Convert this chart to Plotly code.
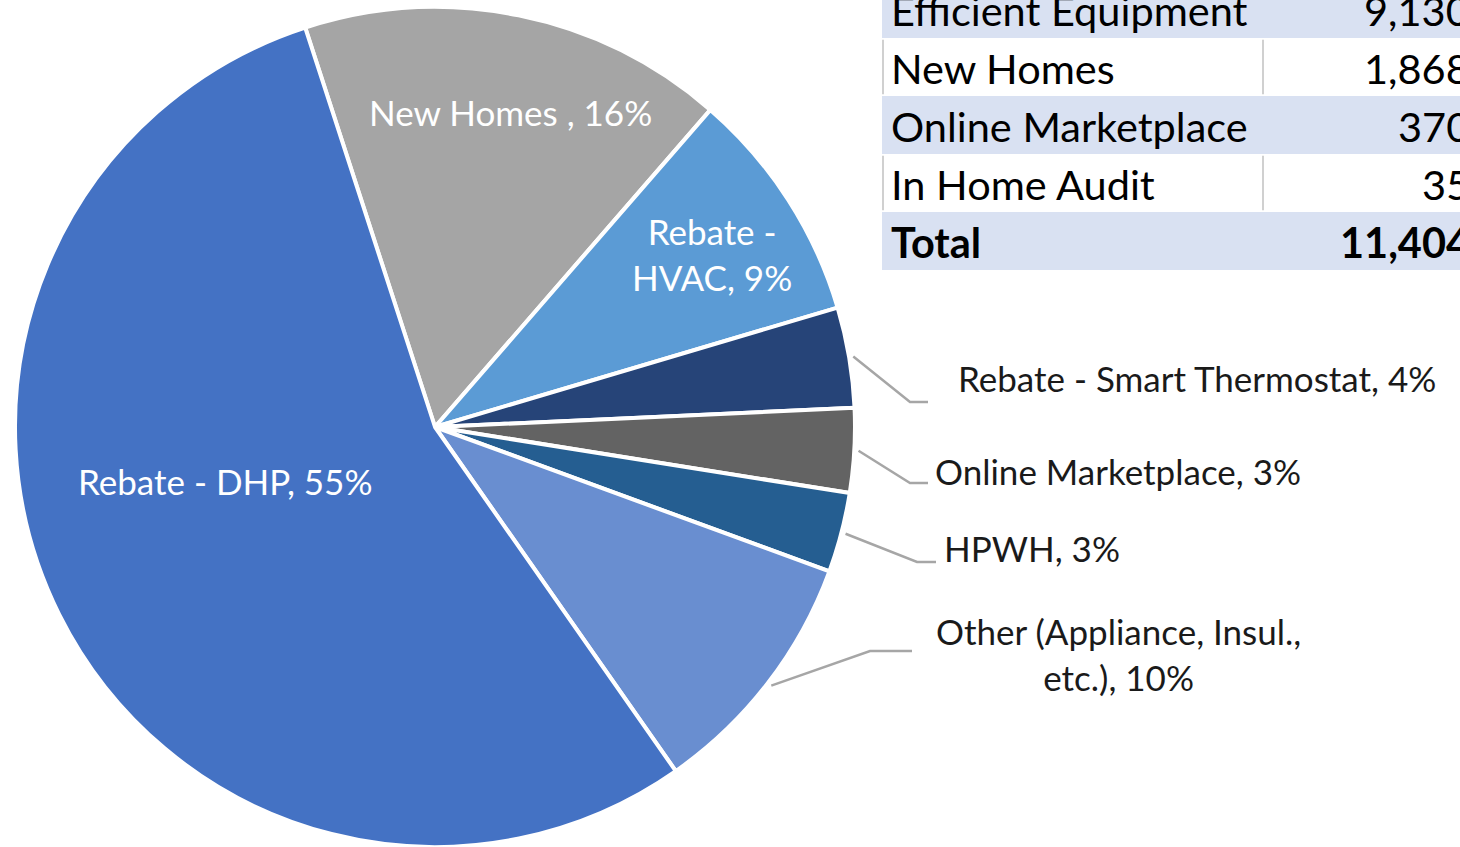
import math
import plotly.graph_objects as go

# ---------------- data ----------------
slice_names = ["New Homes ", "Rebate - HVAC", "Rebate - Smart Thermostat",
               "Online Marketplace", "HPWH", "Other (Appliance, Insul., etc.)",
               "Rebate - DHP"]
slice_label_lines = ["New Homes ", "Rebate -<br>HVAC", "Rebate - Smart Thermostat",
                     "Online Marketplace", "HPWH", "Other (Appliance, Insul.,<br>etc.)",
                     "Rebate - DHP"]
slice_values = [1868, 1030, 440, 370, 350, 1106, 6240]
slice_colors = ["#A5A5A5", "#5B9BD5", "#264478", "#636363", "#255E91",
                "#698ED0", "#4472C4"]

table_rows = ["Efficient Equipment", "New Homes", "Online Marketplace",
              "In Home Audit", "Total"]
table_values = [9130, 1868, 370, 35, 11404]

# ---------------- layout constants ----------------
W, H = 1460, 847
FONT = "Lato"
pie_left, pie_right, pie_top = 14, 856, 7   # target pixel bounds of the pie
rotation = -18

def px(x):
    return x / W

def py(y):
    return 1 - y / H

fig = go.Figure()

dom_x = [px(pie_left), px(pie_right)]
dom_y = [0, py(pie_top)]
fig.add_trace(go.Pie(
    labels=slice_names,
    values=slice_values,
    sort=False,
    direction="clockwise",
    rotation=rotation,
    textinfo="none",
    hoverinfo="label+percent",
    marker=dict(colors=slice_colors, line=dict(color="white", width=4)),
    domain=dict(x=dom_x, y=dom_y),
    showlegend=False,
))

# pie geometry (pixels) derived from domain
R = min((dom_x[1] - dom_x[0]) * W, (dom_y[1] - dom_y[0]) * H) / 2
cx = (dom_x[0] + dom_x[1]) / 2 * W
cy = (1 - (dom_y[0] + dom_y[1]) / 2) * H

total = sum(slice_values)
pcts = [round(v / total * 100) for v in slice_values]
mid_angles = []
acc = 0
for v in slice_values:
    mid_angles.append(math.radians(rotation + 360 * (acc + v / 2) / total))
    acc += v

# label placement (pixels): (x, y, xanchor, color, leader elbow/end or None)
label_layout = [
    (511, 112, "center", "white", None),
    (712, 254, "center", "white", None),
    (956, 378, "left", "#1a1a1a", [(910, 402), (928, 402)]),
    (933, 471, "left", "#1a1a1a", [(910, 483), (928, 483)]),
    (942, 548, "left", "#1a1a1a", [(917, 562), (936, 562)]),
    (1118, 654, "center", "#1a1a1a", [(870, 651), (912, 651)]),
    (225, 481, "center", "white", None),
]

annotations = []
shapes = []
for i, (lx, ly, anchor, color, leader) in enumerate(label_layout):
    annotations.append(dict(
        x=px(lx), y=py(ly), xref="paper", yref="paper",
        xanchor=anchor, yanchor="middle", align="center",
        text=f"{slice_label_lines[i]}, {pcts[i]}%", showarrow=False,
        font=dict(family=FONT, size=35, color=color),
    ))
    if leader:
        a = mid_angles[i]
        sx = cx + R * 1.01 * math.sin(a)
        sy = cy - R * 1.01 * math.cos(a)
        pts = [(sx, sy)] + leader
        path = "M " + " L ".join(f"{px(x)},{py(y)}" for x, y in pts)
        shapes.append(dict(type="path", path=path, xref="paper", yref="paper",
                           line=dict(color="#A6A6A6", width=2.5)))

# ---------------- table (drawn on a hidden cartesian axis) ----------------
row_h = 58          # pixels per row
row0_center = 9     # pixel y of first row centre
tbl_left, tbl_right = 882, 1480
col_split = 1263
row_colors = ["#D9E1F2" if i % 2 == 0 else "white" for i in range(len(table_rows))]

fig.add_trace(go.Bar(
    orientation="h",
    y=list(range(len(table_rows))),
    x=[tbl_right - tbl_left] * len(table_rows),
    base=[tbl_left] * len(table_rows),
    width=[1] * len(table_rows),
    marker=dict(color=row_colors, line=dict(width=0)),
    hoverinfo="skip",
    showlegend=False,
))

for i, name in enumerate(table_rows):
    bold = name == "Total"
    annotations.append(dict(
        x=889, y=i + 0.01, xref="x", yref="y", xanchor="left", yanchor="middle",
        text=f"<b>{name}</b>" if bold else name, showarrow=False,
        font=dict(family=FONT, size=41.5, color="black"),
    ))
    annotations.append(dict(
        x=W - 10, xshift=10 + 12, y=i + 0.01, xref="x", yref="y",
        xanchor="right", yanchor="middle",
        text=f"<b>{table_values[i]:,}</b>" if bold else f"{table_values[i]:,}",
        showarrow=False,
        font=dict(family=FONT, size=41.5, color="black"),
    ))
    if row_colors[i] == "white":
        for xv in (tbl_left + 1, col_split):
            shapes.append(dict(type="line", xref="x", yref="y",
                               x0=xv, x1=xv, y0=i - 0.47, y1=i + 0.47,
                               line=dict(color="#D0D0D0", width=2)))

y_top = -row0_center / row_h
y_bot = y_top + H / row_h

fig.update_layout(
    width=W, height=H,
    margin=dict(l=0, r=0, t=0, b=0),
    paper_bgcolor="white", plot_bgcolor="rgba(0,0,0,0)",
    xaxis=dict(range=[0, W], visible=False, fixedrange=True, domain=[0, 1]),
    yaxis=dict(range=[y_bot, y_top], visible=False, fixedrange=True, domain=[0, 1]),
    annotations=annotations,
    shapes=shapes,
    showlegend=False,
)

fig.write_html(
    "out.html",
    config={"displayModeBar": False},
    post_script="document.body.style.margin='0px';document.body.style.overflow='hidden';",
)
